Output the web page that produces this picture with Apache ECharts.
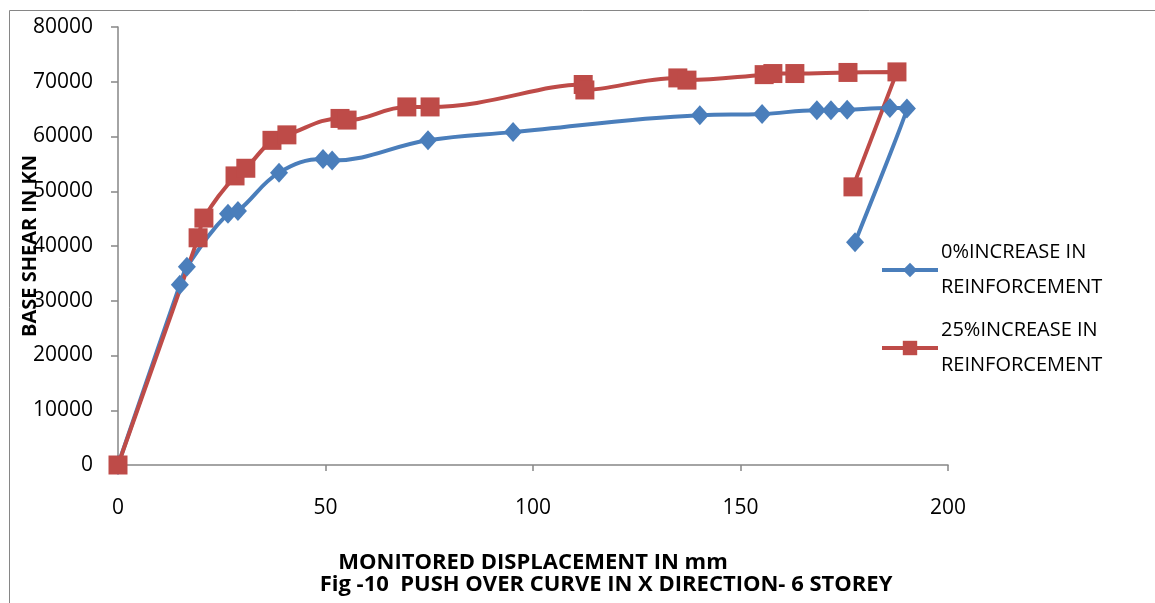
<!DOCTYPE html>
<html><head><meta charset="utf-8">
<script src="https://cdn.jsdelivr.net/npm/echarts@6/dist/echarts.min.js"></script>
<style>html,body{margin:0;padding:0;background:#fff}#c{width:1155px;height:603px}</style>
</head><body><div id="c"></div>
<script>
const seriesNames = ['0%INCREASE IN\nREINFORCEMENT', '25%INCREASE IN\nREINFORCEMENT'];
const blueX = [0, 14.9, 16.6, 26.5, 28.9, 38.8, 49.4, 51.6, 74.7, 95.2, 140.2, 155.2, 168.4, 171.8, 175.7, 186.0, 190.1, 177.6];
const blueY = [0, 32900, 36200, 45900, 46400, 53400, 55900, 55600, 59300, 60800, 63900, 64100, 64800, 64800, 64900, 65200, 65100, 40700];
const redX = [0, 19.3, 20.7, 28.2, 30.8, 37.1, 40.7, 53.5, 55.2, 69.6, 75.2, 112.1, 112.5, 134.9, 137.1, 155.7, 157.8, 163.1, 175.9, 187.7, 177.1];
const redY = [0, 41500, 45100, 52800, 54200, 59300, 60300, 63300, 63000, 65400, 65400, 69500, 68500, 70700, 70300, 71300, 71500, 71500, 71700, 71800, 50800];
const xTicks = [0, 50, 100, 150, 200];
const yTicks = [0, 10000, 20000, 30000, 40000, 50000, 60000, 70000, 80000];
const xTitle = 'MONITORED DISPLACEMENT IN mm';
const yTitle = 'BASE SHEAR IN KN';
const caption = 'Fig -10  PUSH OVER CURVE IN X DIRECTION- 6 STOREY';

const pair = (xs, ys) => xs.map((x, i) => [x, ys[i]]);
const chart = echarts.init(document.getElementById('c'));
const axisCol = '#868686';
const font = '"Open Sans", sans-serif';
chart.setOption({
  animation: false,
  backgroundColor: '#fff',
  grid: {left: 118, right: 207, top: 27, bottom: 138, containLabel: false, outerBoundsMode: 'none'},
  xAxis: {
    type: 'value', min: xTicks[0], max: xTicks[xTicks.length - 1], interval: 50,
    axisLine: {show: true, lineStyle: {color: axisCol, width: 1.5}},
    axisTick: {show: true, length: 6, lineStyle: {color: axisCol, width: 1.5}},
    splitLine: {show: false},
    axisLabel: {color: '#000', fontSize: 21, fontFamily: font, margin: 33},
    name: xTitle, nameLocation: 'middle', nameGap: 87, nameMoveOverlap: false,
    nameTextStyle: {color: '#000', fontSize: 22, fontWeight: 'bold', fontFamily: font}
  },
  yAxis: {
    type: 'value', min: yTicks[0], max: yTicks[yTicks.length - 1], interval: 10000,
    axisLine: {show: true, lineStyle: {color: axisCol, width: 1.5}},
    axisTick: {show: true, length: 7, lineStyle: {color: axisCol, width: 1.5}},
    splitLine: {show: false},
    axisLabel: {color: '#000', fontSize: 21, fontFamily: font, margin: 25, formatter: v => String(v)},
    name: yTitle, nameLocation: 'middle', nameRotate: 90, nameGap: 78, nameMoveOverlap: false,
    nameTextStyle: {color: '#000', fontSize: 20, fontWeight: 'bold', fontFamily: font}
  },
  legend: {
    orient: 'vertical', left: 880, top: 235, itemGap: 8, padding: 0,
    itemWidth: 56, itemHeight: 18,
    lineStyle: {width: 4},
    textStyle: {color: '#000', fontSize: 20, fontFamily: font, lineHeight: 35, padding: [0, 0, 0, -2]},
    data: seriesNames
  },
  graphic: [
    {type: 'rect', shape: {x: 9.5, y: 10.5, width: 1160, height: 620}, style: {fill: 'none', stroke: axisCol, lineWidth: 1}, silent: true},
    {type: 'text', x: 606, y: 574, style: {text: caption, align: 'center', fill: '#000', fontSize: 22, fontWeight: 'bold', fontFamily: font}}
  ],
  series: [
    {name: seriesNames[0], type: 'line', data: pair(blueX, blueY), smooth: 0.4,
     symbol: 'diamond', symbolSize: [18, 20],
     lineStyle: {color: '#4A7EBB', width: 4}, itemStyle: {color: '#4A7EBB'}},
    {name: seriesNames[1], type: 'line', data: pair(redX, redY), smooth: 0.4,
     symbol: 'rect', symbolSize: 19,
     lineStyle: {color: '#BE4B48', width: 4}, itemStyle: {color: '#BE4B48'}}
  ]
});
</script></body></html>
